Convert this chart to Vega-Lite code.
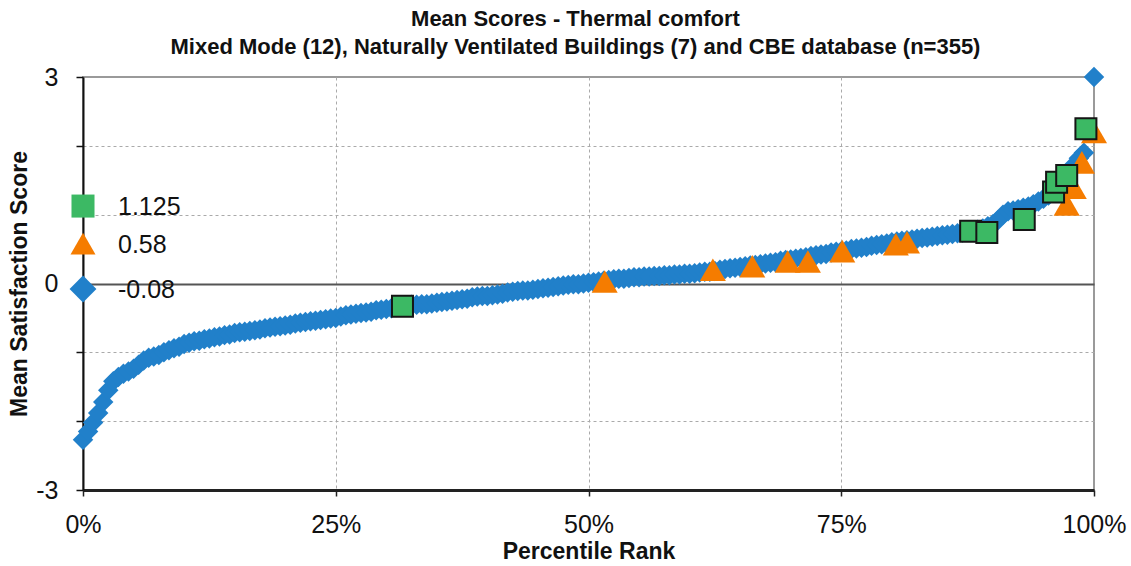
{
  "$schema": "https://vega.github.io/schema/vega-lite/v6.json",
  "width": 1011,
  "height": 413,
  "autosize": {"type": "none"},
  "padding": {"left": 83, "top": 77, "right": 37, "bottom": 76},
  "background": "white",
  "config": {"view": {"stroke": "#9a9a9a", "strokeWidth": 2}, "font": "Liberation Sans"},
  "title": {
    "text": ["Mean Scores - Thermal comfort", "Mixed Mode (12), Naturally Ventilated Buildings (7) and CBE database (n=355)"],
    "fontSize": 22,
    "fontWeight": "bold",
    "font": "Liberation Sans",
    "anchor": "middle",
    "lineHeight": 28,
    "offset": 6,
    "color": "#111",
    "dx": -13
  },
  "datasets": {
    "cbe": [
      {"p":0.000,"v":-2.27},{"p":0.005,"v":-2.15},{"p":0.010,"v":-2.02},{"p":0.015,"v":-1.88},{"p":0.020,"v":-1.72},
      {"p":0.025,"v":-1.55},{"p":0.030,"v":-1.42},{"p":0.035,"v":-1.36},{"p":0.040,"v":-1.31},{"p":0.045,"v":-1.28},
      {"p":0.050,"v":-1.24},{"p":0.055,"v":-1.18},{"p":0.060,"v":-1.12},{"p":0.065,"v":-1.08},{"p":0.070,"v":-1.06},
      {"p":0.075,"v":-1.04},{"p":0.080,"v":-1.00},{"p":0.085,"v":-0.97},{"p":0.090,"v":-0.94},{"p":0.095,"v":-0.92},
      {"p":0.100,"v":-0.88},{"p":0.105,"v":-0.86},{"p":0.110,"v":-0.84},{"p":0.115,"v":-0.83},{"p":0.120,"v":-0.81},
      {"p":0.125,"v":-0.80},{"p":0.130,"v":-0.78},{"p":0.135,"v":-0.77},{"p":0.140,"v":-0.75},{"p":0.145,"v":-0.74},
      {"p":0.150,"v":-0.72},{"p":0.155,"v":-0.71},{"p":0.160,"v":-0.70},{"p":0.165,"v":-0.69},{"p":0.170,"v":-0.68},
      {"p":0.175,"v":-0.67},{"p":0.180,"v":-0.65},{"p":0.185,"v":-0.64},{"p":0.190,"v":-0.63},{"p":0.195,"v":-0.62},
      {"p":0.200,"v":-0.61},{"p":0.205,"v":-0.60},{"p":0.210,"v":-0.58},{"p":0.215,"v":-0.57},{"p":0.220,"v":-0.56},
      {"p":0.225,"v":-0.55},{"p":0.230,"v":-0.54},{"p":0.235,"v":-0.53},{"p":0.240,"v":-0.52},{"p":0.245,"v":-0.51},
      {"p":0.250,"v":-0.50},{"p":0.255,"v":-0.48},{"p":0.260,"v":-0.46},{"p":0.265,"v":-0.45},{"p":0.270,"v":-0.44},
      {"p":0.275,"v":-0.43},{"p":0.280,"v":-0.42},{"p":0.285,"v":-0.41},{"p":0.290,"v":-0.39},{"p":0.295,"v":-0.38},
      {"p":0.300,"v":-0.37},{"p":0.305,"v":-0.36},{"p":0.310,"v":-0.34},{"p":0.315,"v":-0.33},{"p":0.320,"v":-0.32},
      {"p":0.325,"v":-0.31},{"p":0.330,"v":-0.31},{"p":0.335,"v":-0.30},{"p":0.340,"v":-0.30},{"p":0.345,"v":-0.29},
      {"p":0.350,"v":-0.28},{"p":0.355,"v":-0.27},{"p":0.360,"v":-0.26},{"p":0.365,"v":-0.25},{"p":0.370,"v":-0.24},
      {"p":0.375,"v":-0.23},{"p":0.380,"v":-0.22},{"p":0.385,"v":-0.20},{"p":0.390,"v":-0.19},{"p":0.395,"v":-0.18},
      {"p":0.400,"v":-0.18},{"p":0.405,"v":-0.17},{"p":0.410,"v":-0.16},{"p":0.415,"v":-0.15},{"p":0.420,"v":-0.13},
      {"p":0.425,"v":-0.12},{"p":0.430,"v":-0.11},{"p":0.435,"v":-0.10},{"p":0.440,"v":-0.10},{"p":0.445,"v":-0.09},
      {"p":0.450,"v":-0.08},{"p":0.455,"v":-0.07},{"p":0.460,"v":-0.06},{"p":0.465,"v":-0.05},{"p":0.470,"v":-0.04},
      {"p":0.475,"v":-0.03},{"p":0.480,"v":-0.02},{"p":0.485,"v":-0.01},{"p":0.490,"v":-0.01},{"p":0.495,"v":0.00},
      {"p":0.500,"v":0.01},{"p":0.505,"v":0.02},{"p":0.510,"v":0.03},{"p":0.515,"v":0.04},{"p":0.520,"v":0.05},
      {"p":0.525,"v":0.06},{"p":0.530,"v":0.07},{"p":0.535,"v":0.07},{"p":0.540,"v":0.08},{"p":0.545,"v":0.09},
      {"p":0.550,"v":0.09},{"p":0.555,"v":0.10},{"p":0.560,"v":0.10},{"p":0.565,"v":0.11},{"p":0.570,"v":0.11},
      {"p":0.575,"v":0.12},{"p":0.580,"v":0.12},{"p":0.585,"v":0.13},{"p":0.590,"v":0.13},{"p":0.595,"v":0.14},
      {"p":0.600,"v":0.14},{"p":0.605,"v":0.15},{"p":0.610,"v":0.16},{"p":0.615,"v":0.17},{"p":0.620,"v":0.17},
      {"p":0.625,"v":0.18},{"p":0.630,"v":0.20},{"p":0.635,"v":0.21},{"p":0.640,"v":0.22},{"p":0.645,"v":0.23},
      {"p":0.650,"v":0.24},{"p":0.655,"v":0.25},{"p":0.660,"v":0.26},{"p":0.665,"v":0.27},{"p":0.670,"v":0.28},
      {"p":0.675,"v":0.29},{"p":0.680,"v":0.30},{"p":0.685,"v":0.31},{"p":0.690,"v":0.33},{"p":0.695,"v":0.34},
      {"p":0.700,"v":0.35},{"p":0.705,"v":0.36},{"p":0.710,"v":0.37},{"p":0.715,"v":0.38},{"p":0.720,"v":0.40},
      {"p":0.725,"v":0.41},{"p":0.730,"v":0.42},{"p":0.735,"v":0.43},{"p":0.740,"v":0.45},{"p":0.745,"v":0.46},
      {"p":0.750,"v":0.47},{"p":0.755,"v":0.48},{"p":0.760,"v":0.50},{"p":0.765,"v":0.51},{"p":0.770,"v":0.52},
      {"p":0.775,"v":0.53},{"p":0.780,"v":0.55},{"p":0.785,"v":0.56},{"p":0.790,"v":0.57},{"p":0.795,"v":0.58},
      {"p":0.800,"v":0.60},{"p":0.805,"v":0.61},{"p":0.810,"v":0.62},{"p":0.815,"v":0.63},{"p":0.820,"v":0.64},
      {"p":0.825,"v":0.65},{"p":0.830,"v":0.66},{"p":0.835,"v":0.67},{"p":0.840,"v":0.68},{"p":0.845,"v":0.69},
      {"p":0.850,"v":0.70},{"p":0.855,"v":0.71},{"p":0.860,"v":0.72},{"p":0.865,"v":0.73},{"p":0.870,"v":0.74},
      {"p":0.875,"v":0.75},{"p":0.880,"v":0.77},{"p":0.885,"v":0.78},{"p":0.890,"v":0.80},{"p":0.895,"v":0.83},
      {"p":0.900,"v":0.86},{"p":0.905,"v":0.92},{"p":0.910,"v":1.00},{"p":0.915,"v":1.05},{"p":0.920,"v":1.06},
      {"p":0.925,"v":1.08},{"p":0.930,"v":1.10},{"p":0.935,"v":1.12},{"p":0.940,"v":1.15},{"p":0.945,"v":1.19},
      {"p":0.950,"v":1.23},{"p":0.955,"v":1.28},{"p":0.960,"v":1.34},{"p":0.965,"v":1.42},{"p":0.970,"v":1.52},
      {"p":0.975,"v":1.62},{"p":0.980,"v":1.72},{"p":0.985,"v":1.82},{"p":0.990,"v":1.90},{"p":1.000,"v":3.00}
    ],
    "mm": [
      {"p":0.516,"v":0.03},{"p":0.623,"v":0.20},{"p":0.662,"v":0.25},{"p":0.697,"v":0.32},
      {"p":0.717,"v":0.32},{"p":0.751,"v":0.47},{"p":0.804,"v":0.57},{"p":0.815,"v":0.60},
      {"p":0.973,"v":1.15},{"p":0.980,"v":1.39},{"p":0.988,"v":1.76},{"p":1.000,"v":2.20}
    ],
    "nv": [
      {"p":0.316,"v":-0.33},{"p":0.878,"v":0.76},{"p":0.894,"v":0.74},{"p":0.931,"v":0.93},
      {"p":0.960,"v":1.33},{"p":0.963,"v":1.47},{"p":0.973,"v":1.57},{"p":0.992,"v":2.25}
    ],
    "means": [
      {"p":0,"v":1.125,"g":"nv","label":"1.125"},
      {"p":0,"v":0.58,"g":"mm","label":"0.58"},
      {"p":0,"v":-0.08,"g":"cbe","label":"-0.08"}
    ]
  },
  "encoding": {
    "x": {
      "field": "p",
      "type": "quantitative",
      "scale": {"domain": [0, 1], "nice": false},
      "axis": {
        "title": "Percentile Rank",
        "format": ".0%",
        "values": [0, 0.25, 0.5, 0.75, 1],
        "labelFlush": false,
        "labelOverlap": false,
        "labelBound": false,
        "grid": true,
        "gridDash": [3, 3],
        "gridColor": "#aaaaaa",
        "gridWidth": 1,
        "gridOpacity": {"condition": {"test": "datum.value == 0 || datum.value == 1", "value": 0}, "value": 1},
        "domainColor": "#222222",
        "domainWidth": 3,
        "tickColor": "#222222",
        "tickSize": 6,
        "tickWidth": 1.5,
        "labelFont": "Liberation Sans",
        "labelFontSize": 25,
        "labelColor": "#111111",
        "labelPadding": 16,
        "titleFont": "Liberation Sans",
        "titleFontSize": 23,
        "titleFontWeight": "bold",
        "titleColor": "#111111",
        "titlePadding": 3
      }
    },
    "y": {
      "field": "v",
      "type": "quantitative",
      "scale": {"domain": [-3, 3], "nice": false},
      "axis": {
        "title": "Mean Satisfaction Score",
        "values": [-3, -2, -1, 0, 1, 2, 3],
        "labelExpr": "datum.value == 3 ? '3' : datum.value == 0 ? '0' : datum.value == -3 ? '-3' : ''",
        "labelFlush": false,
        "labelOverlap": false,
        "grid": true,
        "gridDash": {"condition": {"test": "datum.value == 0", "value": []}, "value": [3, 3]},
        "gridColor": {"condition": {"test": "datum.value == 0", "value": "#555555"}, "value": "#aaaaaa"},
        "gridWidth": {"condition": {"test": "datum.value == 0", "value": 2}, "value": 1},
        "gridOpacity": {"condition": {"test": "abs(datum.value) == 3", "value": 0}, "value": 1},
        "domainColor": "#111111",
        "domainWidth": 2,
        "tickColor": "#111111",
        "tickSize": 7,
        "tickWidth": 1.5,
        "labelFont": "Liberation Sans",
        "labelFontSize": 25,
        "labelColor": "#111111",
        "labelPadding": 18,
        "titleFont": "Liberation Sans",
        "titleFontSize": 23,
        "titleFontWeight": "bold",
        "titleColor": "#111111",
        "titlePadding": 4
      }
    }
  },
  "layer": [
    {
      "data": {"name": "cbe"},
      "mark": {"type": "point", "shape": "diamond", "filled": true, "color": "#2180CA", "opacity": 1, "size": 420}
    },
    {
      "data": {"name": "mm"},
      "mark": {"type": "point", "shape": "triangle-up", "filled": true, "color": "#F57C00", "opacity": 1, "size": 680}
    },
    {
      "data": {"name": "nv"},
      "mark": {"type": "point", "shape": "square", "filled": true, "fill": "#3CB964", "stroke": "#151515", "strokeWidth": 2, "opacity": 1, "size": 441}
    },
    {
      "data": {"name": "means"},
      "mark": {"type": "point", "filled": true, "opacity": 1, "strokeWidth": 0},
      "encoding": {
        "shape": {"field": "g", "type": "nominal", "scale": {"domain": ["nv", "mm", "cbe"], "range": ["square", "triangle-up", "diamond"]}, "legend": null},
        "color": {"field": "g", "type": "nominal", "scale": {"domain": ["nv", "mm", "cbe"], "range": ["#3CB964", "#F57C00", "#2180CA"]}, "legend": null},
        "size": {"field": "g", "type": "nominal", "scale": {"domain": ["nv", "mm", "cbe"], "range": [530, 720, 620]}, "legend": null}
      }
    },
    {
      "data": {"name": "means"},
      "mark": {"type": "text", "align": "left", "baseline": "middle", "dx": 35, "dy": 1, "fontSize": 25, "font": "Liberation Sans", "color": "#111111"},
      "encoding": {"text": {"field": "label"}}
    }
  ]
}
